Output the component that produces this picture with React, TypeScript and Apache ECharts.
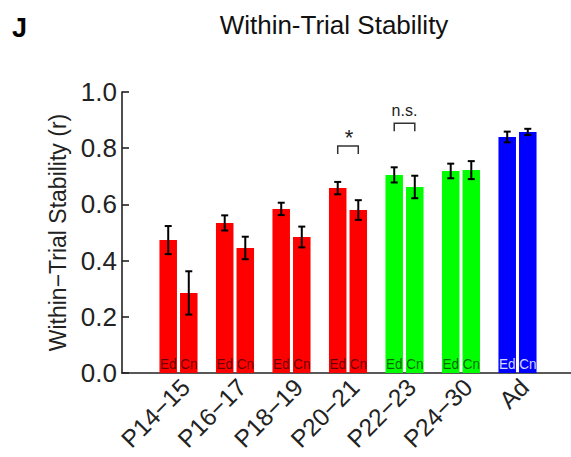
import React, { useEffect, useRef } from "react";
import * as echarts from "echarts";

// ---- data ----
const categories = ["P14−15", "P16−17", "P18−19", "P20−21", "P22−23", "P24−30", "Ad"];
const conditionLabels = ["Ed", "Cn"];
const edMean = [0.473, 0.534, 0.584, 0.658, 0.705, 0.719, 0.84];
const edErr = [0.05, 0.027, 0.022, 0.022, 0.027, 0.026, 0.019];
const cnMean = [0.285, 0.445, 0.484, 0.58, 0.662, 0.722, 0.858];
const cnErr = [0.077, 0.04, 0.037, 0.035, 0.04, 0.032, 0.011];
const yTicks = [0, 0.2, 0.4, 0.6, 0.8, 1.0];
const sigGroups = [3, 4];
const sigHeights = [0.808, 0.889];
const sigLabels = ["*", "n.s."];

// ---- styles ----
const groupColors = ["#ff0000", "#ff0000", "#ff0000", "#ff0000", "#00ff00", "#00ff00", "#0000ff"];
const innerTextColors = [
  "rgba(0,0,0,0.62)", "rgba(0,0,0,0.62)", "rgba(0,0,0,0.62)", "rgba(0,0,0,0.62)",
  "rgba(0,0,0,0.62)", "rgba(0,0,0,0.62)", "rgba(255,255,255,0.85)",
];
const FONT = "'Liberation Sans', Arial, Helvetica, sans-serif";
const BAR_FRAC = 0.31;
const OFFSET_FRAC = 0.182;
const LABEL_SHIFT = 0.125; // category-label shift (in category units)

function makeBarRender(offsetFrac: number, label: string) {
  return (params: any, api: any) => {
    const i = api.value(0);
    const v = api.value(1);
    const e = api.value(2);
    const unit = api.size([1, 0])[0];
    const base = api.coord([i, 0]);
    const cx = base[0] + offsetFrac * unit;
    const y0 = base[1];
    const yv = api.coord([i, v])[1];
    const yTop = api.coord([i, v + e])[1];
    const yBot = api.coord([i, v - e])[1];
    const w = BAR_FRAC * unit;
    const cap = 3.5;
    return {
      type: "group",
      children: [
        { type: "rect", shape: { x: cx - w / 2, y: yv, width: w, height: y0 - yv }, style: { fill: groupColors[i] } },
        {
          type: "text",
          x: cx,
          y: y0 - 1,
          scaleY: 1.12,
          style: {
            text: label, x: 0, y: 0, align: "center", verticalAlign: "bottom",
            fontSize: 13.5, fontFamily: FONT, fill: innerTextColors[i],
          },
        },
        { type: "line", shape: { x1: cx, y1: yTop, x2: cx, y2: yBot }, style: { stroke: "#000", lineWidth: 2 } },
        { type: "line", shape: { x1: cx - cap, y1: yTop, x2: cx + cap, y2: yTop }, style: { stroke: "#000", lineWidth: 2 } },
        { type: "line", shape: { x1: cx - cap, y1: yBot, x2: cx + cap, y2: yBot }, style: { stroke: "#000", lineWidth: 2 } },
      ],
    };
  };
}

function sigRender(params: any, api: any) {
  const i = api.value(0);
  const h = api.value(1);
  const idx = params.dataIndex;
  const unit = api.size([1, 0])[0];
  const p = api.coord([i, h]);
  const xl = p[0] - OFFSET_FRAC * unit;
  const xr = p[0] + OFFSET_FRAC * unit;
  const y = p[1];
  const label = sigLabels[idx];
  const isStar = label === "*";
  return {
    type: "group",
    children: [
      {
        type: "polyline",
        shape: { points: [[xl, y + 8], [xl, y], [xr, y], [xr, y + 8]] },
        style: { stroke: "#333", lineWidth: 1.5, fill: "none" },
      },
      {
        type: "text",
        style: {
          text: label, x: p[0] + (isStar ? 1 : 0), y: isStar ? y + 3 : y - 5, align: "center", verticalAlign: "bottom",
          fontSize: isStar ? 22 : 16, fontFamily: FONT, fill: "#222",
        },
      },
    ],
  };
}

export default function App() {
  const ref = useRef<HTMLDivElement>(null);
  useEffect(() => {
    document.body.style.margin = "0";
    const chart = echarts.init(ref.current!, null, { renderer: "svg" });
    const edData = edMean.map((m, i) => [i, m, edErr[i]]);
    const cnData = cnMean.map((m, i) => [i, m, cnErr[i]]);
    const sigData = sigGroups.map((g, k) => [g, sigHeights[k]]);
    chart.setOption({
      animation: false,
      backgroundColor: "#fff",
      grid: { left: 122, top: 92, width: 452, height: 281, containLabel: false, outerBoundsMode: "none" },
      xAxis: [
        {
          type: "value",
          min: -1,
          max: 7,
          interval: 1,
          axisLine: { show: true, onZero: false, lineStyle: { color: "#222", width: 1.6 } },
          axisTick: { show: false },
          splitLine: { show: false },
          axisLabel: { show: false },
        },
        {
          type: "value",
          position: "bottom",
          min: -1 - LABEL_SHIFT,
          max: 7 - LABEL_SHIFT,
          interval: LABEL_SHIFT,
          axisLine: { show: false, onZero: false },
          axisTick: { show: false },
          splitLine: { show: false },
          axisLabel: {
            rotate: 45,
            margin: 10,
            fontSize: 24.5,
            fontFamily: FONT,
            color: "#222",
            hideOverlap: false,
            formatter: (v: number) => {
              const k = Math.round(v);
              if (Math.abs(v - k) > 1e-6) return "";
              return k >= 0 && k < categories.length ? categories[k] : "";
            },
          },
        },
      ],
      yAxis: {
        type: "value",
        min: yTicks[0],
        max: yTicks[yTicks.length - 1],
        interval: 0.2,
        axisLine: { show: true, onZero: false, lineStyle: { color: "#222", width: 1.6 } },
        axisTick: { show: true, inside: true, length: 7, lineStyle: { color: "#222", width: 1.6 } },
        splitLine: { show: false },
        axisLabel: {
          fontSize: 26,
          fontFamily: FONT,
          color: "#222",
          margin: 5,
          formatter: (v: number) => v.toFixed(1),
        },
        name: "Within−Trial Stability (r)",
        nameLocation: "middle",
        nameGap: 48,
        nameTextStyle: { fontSize: 23, fontFamily: FONT, color: "#222" },
      },
      graphic: [
        {
          type: "text",
          x: 12,
          y: 28,
          style: { text: "J", fontSize: 27, fontWeight: "bold", fontFamily: FONT, fill: "#000", verticalAlign: "middle" },
        },
        {
          type: "text",
          x: 334,
          y: 25,
          style: {
            text: "Within-Trial Stability", fontSize: 26, fontFamily: FONT, fill: "#111",
            align: "center", verticalAlign: "middle",
          },
        },
      ],
      series: [
        { type: "custom", name: conditionLabels[0], data: edData, renderItem: makeBarRender(-OFFSET_FRAC, conditionLabels[0]), encode: { x: 0, y: 1 }, clip: false },
        { type: "custom", name: conditionLabels[1], data: cnData, renderItem: makeBarRender(OFFSET_FRAC, conditionLabels[1]), encode: { x: 0, y: 1 }, clip: false },
        { type: "custom", name: "sig", data: sigData, renderItem: sigRender, encode: { x: 0, y: 1 }, clip: false },
      ],
    });
    return () => chart.dispose();
  }, []);
  return <div ref={ref} style={{ width: 571, height: 457, position: "absolute", left: 0, top: 0 }} />;
}
